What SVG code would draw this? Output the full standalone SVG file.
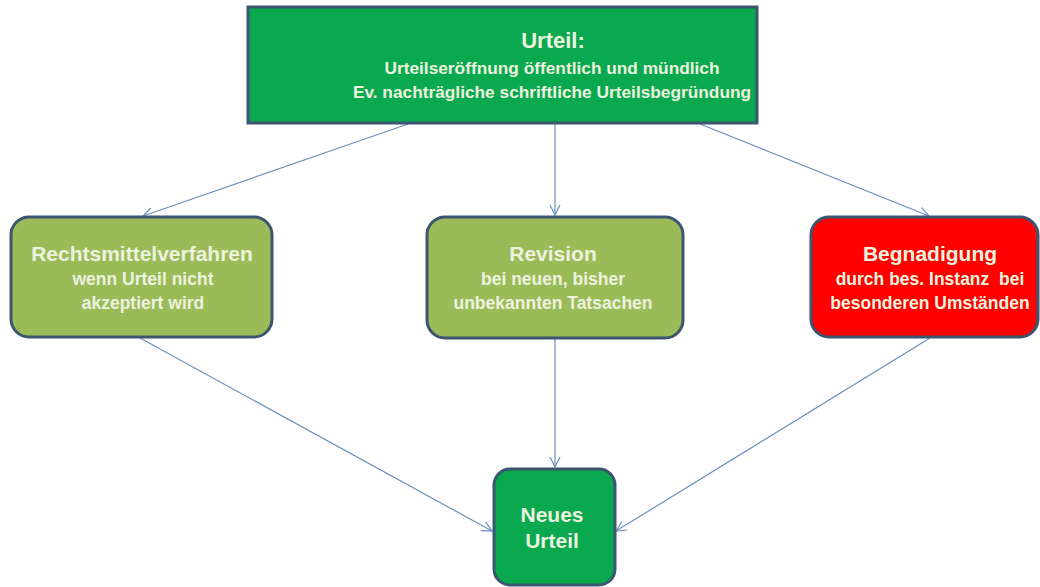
<svg xmlns="http://www.w3.org/2000/svg" width="1040" height="587" viewBox="0 0 1040 587">
<defs>
<style>
.box{stroke:#3b5670;stroke-width:3}
.g{fill:#0aa84f}
.o{fill:#9bbb59}
.r{fill:#ff0000}
.t{font-family:"Liberation Sans",Arial,sans-serif;font-weight:bold;fill:#ebf3df;text-anchor:middle}
.h{font-size:21px}
.s{font-size:17.5px}
.c line{stroke:#6d8fbf;stroke-width:1.2;fill:none;marker-end:url(#ah)}
</style>
<marker id="ah" viewBox="0 0 12 12" refX="11" refY="6" markerWidth="12" markerHeight="12" markerUnits="userSpaceOnUse" orient="auto">
<path d="M1,1 L11,6 L1,11" fill="none" stroke="#6d8fbf" stroke-width="1.2"/>
</marker>
</defs>
<rect width="1040" height="587" fill="#ffffff"/>
<g class="c">
<line x1="408" y1="124" x2="143" y2="216"/>
<line x1="555" y1="124" x2="555" y2="215"/>
<line x1="700" y1="124" x2="929" y2="216"/>
<line x1="140" y1="338" x2="492" y2="531"/>
<line x1="555" y1="339" x2="555" y2="467"/>
<line x1="930" y1="338" x2="616" y2="531"/>
</g>
<g id="urteil">
<rect class="box g" x="248" y="7" width="509" height="116"/>
<text class="t" x="553" y="48" font-size="22">Urteil:</text>
<text class="t" x="552" y="74" font-size="17.3">Urteilseröffnung öffentlich und mündlich</text>
<text class="t" x="552" y="98" font-size="17.3">Ev. nachträgliche schriftliche Urteilsbegründung</text>
</g>
<g id="rechtsmittel">
<rect class="box o" x="11" y="217" width="261" height="120" rx="18"/>
<text class="t h" x="142" y="261">Rechtsmittelverfahren</text>
<text class="t s" x="143" y="285">wenn Urteil nicht</text>
<text class="t s" x="143" y="309">akzeptiert wird</text>
</g>
<g id="revision">
<rect class="box o" x="427" y="217" width="256" height="121" rx="18"/>
<text class="t h" x="553" y="261">Revision</text>
<text class="t s" x="553" y="285">bei neuen, bisher</text>
<text class="t s" x="553" y="309">unbekannten Tatsachen</text>
</g>
<g id="begnadigung">
<rect class="box r" x="811" y="217" width="227" height="120" rx="18"/>
<text class="t h" x="930" y="261">Begnadigung</text>
<text class="t s" x="930" y="285" style="white-space:pre">durch bes. Instanz  bei</text>
<text class="t s" x="930" y="309">besonderen Umständen</text>
</g>
<g id="neues">
<rect class="box g" x="494" y="469" width="121" height="116" rx="16"/>
<text class="t h" x="552" y="522">Neues</text>
<text class="t h" x="552" y="548">Urteil</text>
</g>
</svg>
